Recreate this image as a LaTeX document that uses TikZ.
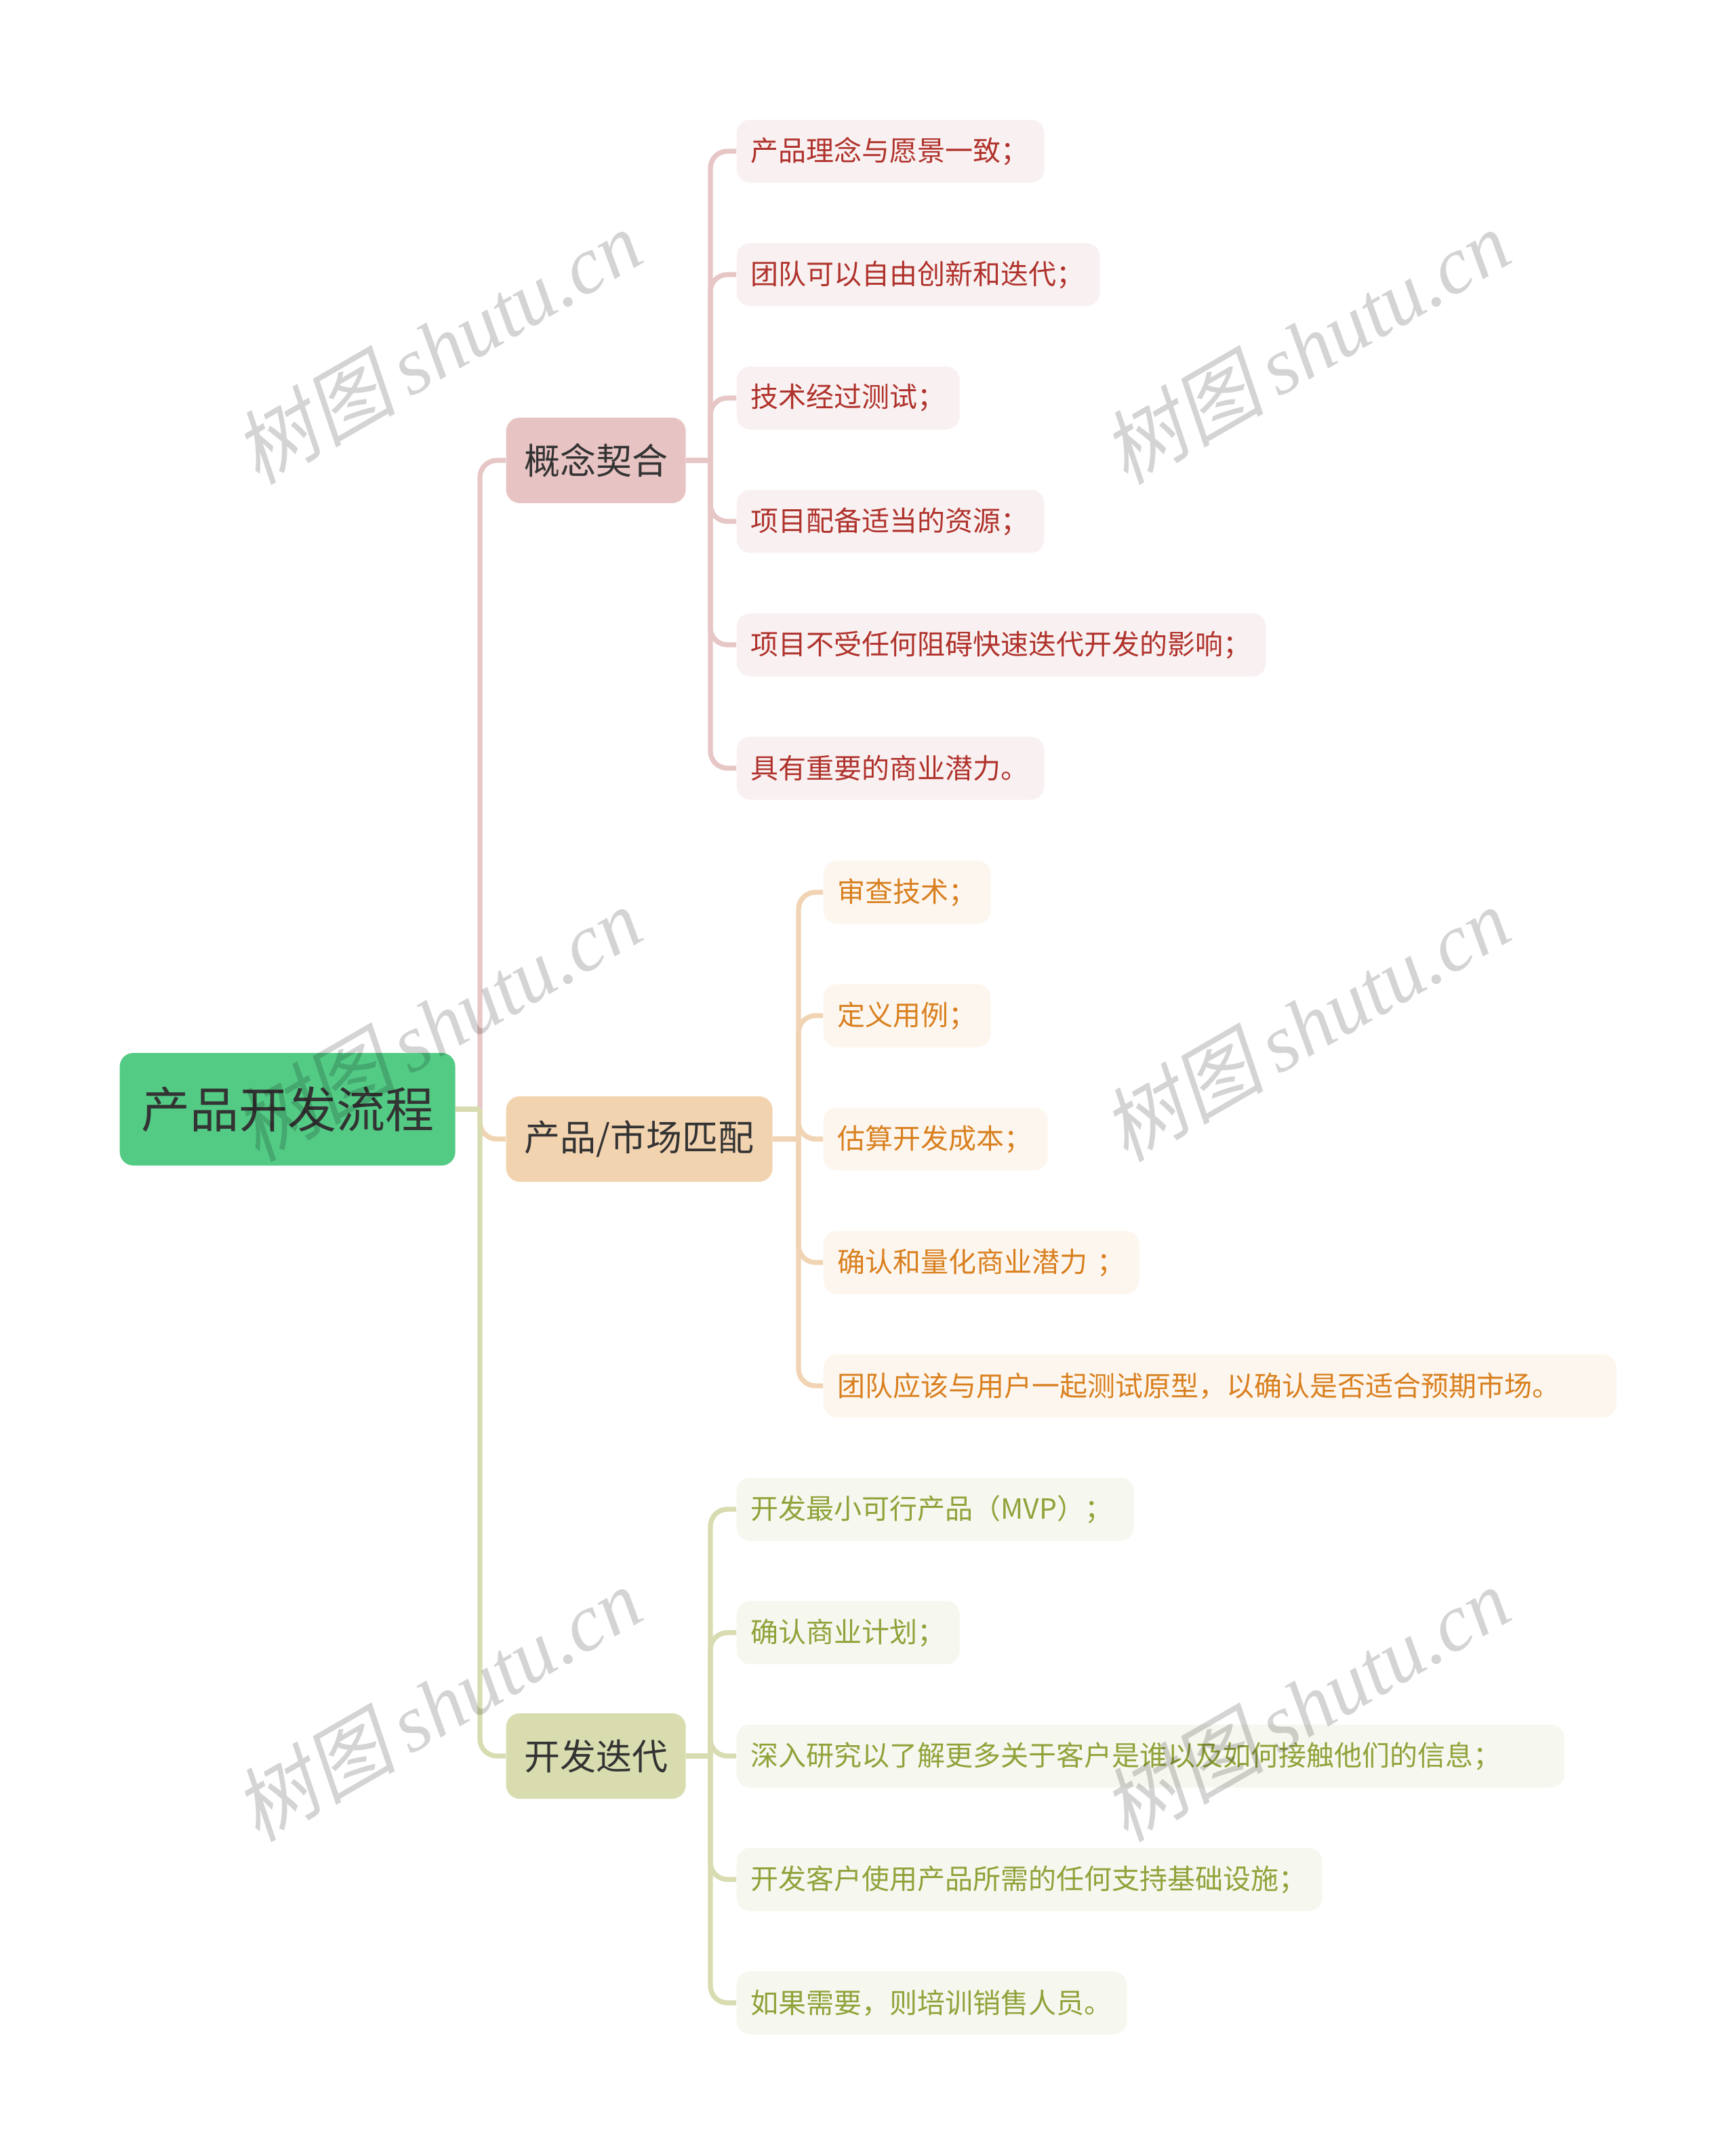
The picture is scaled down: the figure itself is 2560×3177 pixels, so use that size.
\documentclass[tikz,border=0pt]{standalone}
\usepackage{fontspec}
\setmainfont{Noto Sans CJK SC}
\newfontfamily\wmlatin{Liberation Serif}
\newfontfamily\wmcjk[FakeSlant=0.2]{Noto Sans CJK SC}
\definecolor{rootfill}{HTML}{53CB85}
\definecolor{bfa}{HTML}{E8C3C3}
\definecolor{bfb}{HTML}{F2D3B0}
\definecolor{bfc}{HTML}{D8DCAF}
\definecolor{lna}{HTML}{E7C6C6}
\definecolor{lnb}{HTML}{F1D4B3}
\definecolor{lnc}{HTML}{D8DCB0}
\definecolor{lfa}{HTML}{F9F1F1}
\definecolor{lfb}{HTML}{FDF6EE}
\definecolor{lfc}{HTML}{F6F7EE}
\definecolor{txa}{HTML}{B0322C}
\definecolor{txb}{HTML}{D9801F}
\definecolor{txc}{HTML}{8FA33A}
\definecolor{dark}{HTML}{333333}
\tikzset{
  rootbox/.style={fill=rootfill, rounded corners=6pt, anchor=west, minimum width=148.5pt, minimum height=49.8pt, inner sep=0pt, text=dark, font=\fontsize{21.6pt}{24pt}\selectfont},
  branchbox/.style={rounded corners=6pt, anchor=west, minimum height=37.8pt, inner sep=0pt, text=dark, font=\fontsize{15.9pt}{18pt}\selectfont},
  leafbox/.style={rounded corners=6pt, anchor=west, minimum height=27.9pt, inner xsep=6.3pt, inner ysep=0pt, align=left, font=\fontsize{12.3pt}{14pt}\selectfont},
  leafa/.style={leafbox, fill=lfa, text=txa},
  leafb/.style={leafbox, fill=lfb, text=txb},
  leafc/.style={leafbox, fill=lfc, text=txc},
  conn/.style={line width=2.2pt, rounded corners=7.5pt},
  wmark/.style={rotate=30, text=black, opacity=0.17, inner sep=0pt, font=\fontsize{36pt}{40pt}\selectfont}
}
\begin{document}
\begin{tikzpicture}[x=0.3pt,y=-0.3pt]
\useasboundingbox (0,0) rectangle (2560,3177);
\fill[white] (0,0) rectangle (2560,3177);

% junction coordinates
\coordinate (j) at (708,1636);
\coordinate (ta) at (1048,679);
\coordinate (tb) at (1178,1680);
\coordinate (tc) at (1048,2590);

% nodes
\node[rootbox] (root) at (176,1636) {产品开发流程};
\node[branchbox, fill=bfa, minimum width=79.5pt] (ba) at (746,679) {概念契合};
\node[branchbox, fill=bfb, minimum width=117.9pt] (bb) at (746,1680) {产品/市场匹配};
\node[branchbox, fill=bfc, minimum width=79.5pt] (bc) at (746,2590) {开发迭代};

\node[leafa, text width=123.6pt] (a1) at (1086,223) {产品理念与愿景一致；};
\node[leafa, text width=148.2pt] (a2) at (1086,405) {团队可以自由创新和迭代；};
\node[leafa, text width=86.1pt] (a3) at (1086,587) {技术经过测试；};
\node[leafa, text width=123.6pt] (a4) at (1086,769) {项目配备适当的资源；};
\node[leafa, text width=221.7pt] (a5) at (1086,951) {项目不受任何阻碍快速迭代开发的影响；};
\node[leafa, text width=123.6pt] (a6) at (1086,1133) {具有重要的商业潜力。};

\node[leafb, text width=61.5pt] (b1) at (1214,1316) {审查技术；};
\node[leafb, text width=61.5pt] (b2) at (1214,1498) {定义用例；};
\node[leafb, text width=86.7pt] (b3) at (1214,1680) {估算开发成本；};
\node[leafb, text width=127.2pt] (b4) at (1214,1862) {确认和量化商业潜力 ；};
\node[leafb, text width=338.4pt] (b5) at (1214,2044) {团队应该与用户一起测试原型，以确认是否适合预期市场。};

\node[leafc, text width=163.2pt] (c1) at (1086,2226) {开发最小可行产品（MVP）；};
\node[leafc, text width=86.1pt] (c2) at (1086,2408) {确认商业计划；};
\node[leafc, text width=353.7pt] (c3) at (1086,2590) {深入研究以了解更多关于客户是谁以及如何接触他们的信息；};
\node[leafc, text width=246.6pt] (c4) at (1086,2772) {开发客户使用产品所需的任何支持基础设施；};
\node[leafc, text width=160.2pt] (c5) at (1086,2954) {如果需要，则培训销售人员。};

% root connectors
\begin{scope}[on background layer/.try]
\end{scope}
\draw[conn, lna] (j) |- (ba.west);
\draw[conn, lnb] (j) |- (bb.west);
\draw[conn, lnc] (j) |- (bc.west);
\draw[conn, lnc] (root.east) -- (j);

% branch a
\draw[conn, lna] (ba.east) -- (ta);
\foreach \n in {a1,a2,a3,a4,a5,a6} { \draw[conn, lna] (ta) |- (\n.west); }
% branch b
\draw[conn, lnb] (bb.east) -- (tb);
\foreach \n in {b1,b2,b3,b4,b5} { \draw[conn, lnb] (tb) |- (\n.west); }
% branch c
\draw[conn, lnc] (bc.east) -- (tc);
\foreach \n in {c1,c2,c3,c4,c5} { \draw[conn, lnc] (tc) |- (\n.west); }

% watermarks
\foreach \wx in {645,1926} {
  \foreach \wy in {511,1510,2513} {
    \node[wmark] at (\wx,\wy) {{\wmcjk 树图}\,{\wmlatin\itshape shutu.cn}};
  }
}
\end{tikzpicture}
\end{document}
